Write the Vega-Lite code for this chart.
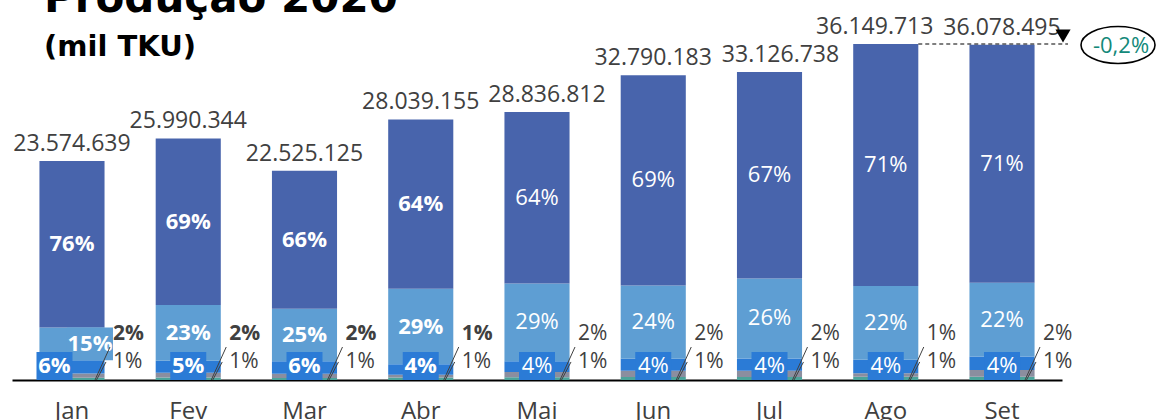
{
  "$schema": "https://vega.github.io/schema/vega-lite/v6.json",
  "width": 1050,
  "height": 336,
  "autosize": {"type": "none"},
  "padding": {"left": 12, "top": 44, "right": 96, "bottom": 40},
  "background": "white",
  "title": {
    "text": "Produção 2020",
    "subtitle": "(mil TKU)",
    "anchor": "start",
    "frame": "group",
    "font": "DejaVu Sans",
    "fontSize": 42,
    "fontWeight": "bold",
    "color": "black",
    "subtitleFont": "DejaVu Sans",
    "subtitleFontSize": 29,
    "subtitleFontWeight": "bold",
    "subtitleColor": "black",
    "subtitlePadding": 12,
    "offset": -44,
    "dx": 32,
    "dy": 3
  },
  "datasets": {
    "seg": [
      {"month": "Jan", "seg": "Grupo 1", "k": 1, "pct": 0.01, "value": 235746},
      {"month": "Jan", "seg": "Grupo 2", "k": 2, "pct": 0.02, "value": 471493},
      {"month": "Jan", "seg": "Grupo 3", "k": 3, "pct": 0.06, "value": 1414478},
      {"month": "Jan", "seg": "Grupo 4", "k": 4, "pct": 0.15, "value": 3536196},
      {"month": "Jan", "seg": "Grupo 5", "k": 5, "pct": 0.76, "value": 17916726},
      {"month": "Fev", "seg": "Grupo 1", "k": 1, "pct": 0.01, "value": 259903},
      {"month": "Fev", "seg": "Grupo 2", "k": 2, "pct": 0.02, "value": 519807},
      {"month": "Fev", "seg": "Grupo 3", "k": 3, "pct": 0.05, "value": 1299517},
      {"month": "Fev", "seg": "Grupo 4", "k": 4, "pct": 0.23, "value": 5977779},
      {"month": "Fev", "seg": "Grupo 5", "k": 5, "pct": 0.69, "value": 17933338},
      {"month": "Mar", "seg": "Grupo 1", "k": 1, "pct": 0.01, "value": 225251},
      {"month": "Mar", "seg": "Grupo 2", "k": 2, "pct": 0.02, "value": 450503},
      {"month": "Mar", "seg": "Grupo 3", "k": 3, "pct": 0.06, "value": 1351508},
      {"month": "Mar", "seg": "Grupo 4", "k": 4, "pct": 0.25, "value": 5631281},
      {"month": "Mar", "seg": "Grupo 5", "k": 5, "pct": 0.66, "value": 14866582},
      {"month": "Abr", "seg": "Grupo 1", "k": 1, "pct": 0.01, "value": 280392},
      {"month": "Abr", "seg": "Grupo 2", "k": 2, "pct": 0.01, "value": 280392},
      {"month": "Abr", "seg": "Grupo 3", "k": 3, "pct": 0.04, "value": 1121566},
      {"month": "Abr", "seg": "Grupo 4", "k": 4, "pct": 0.29, "value": 8131355},
      {"month": "Abr", "seg": "Grupo 5", "k": 5, "pct": 0.64, "value": 18225450},
      {"month": "Mai", "seg": "Grupo 1", "k": 1, "pct": 0.01, "value": 288368},
      {"month": "Mai", "seg": "Grupo 2", "k": 2, "pct": 0.02, "value": 576736},
      {"month": "Mai", "seg": "Grupo 3", "k": 3, "pct": 0.04, "value": 1153472},
      {"month": "Mai", "seg": "Grupo 4", "k": 4, "pct": 0.29, "value": 8362675},
      {"month": "Mai", "seg": "Grupo 5", "k": 5, "pct": 0.64, "value": 18455561},
      {"month": "Jun", "seg": "Grupo 1", "k": 1, "pct": 0.01, "value": 327902},
      {"month": "Jun", "seg": "Grupo 2", "k": 2, "pct": 0.02, "value": 655804},
      {"month": "Jun", "seg": "Grupo 3", "k": 3, "pct": 0.04, "value": 1311607},
      {"month": "Jun", "seg": "Grupo 4", "k": 4, "pct": 0.24, "value": 7869644},
      {"month": "Jun", "seg": "Grupo 5", "k": 5, "pct": 0.69, "value": 22625226},
      {"month": "Jul", "seg": "Grupo 1", "k": 1, "pct": 0.01, "value": 331267},
      {"month": "Jul", "seg": "Grupo 2", "k": 2, "pct": 0.02, "value": 662535},
      {"month": "Jul", "seg": "Grupo 3", "k": 3, "pct": 0.04, "value": 1325070},
      {"month": "Jul", "seg": "Grupo 4", "k": 4, "pct": 0.26, "value": 8612952},
      {"month": "Jul", "seg": "Grupo 5", "k": 5, "pct": 0.67, "value": 22194914},
      {"month": "Ago", "seg": "Grupo 1", "k": 1, "pct": 0.01, "value": 361497},
      {"month": "Ago", "seg": "Grupo 2", "k": 2, "pct": 0.01, "value": 361497},
      {"month": "Ago", "seg": "Grupo 3", "k": 3, "pct": 0.04, "value": 1445989},
      {"month": "Ago", "seg": "Grupo 4", "k": 4, "pct": 0.22, "value": 7952937},
      {"month": "Ago", "seg": "Grupo 5", "k": 5, "pct": 0.71, "value": 26027793},
      {"month": "Set", "seg": "Grupo 1", "k": 1, "pct": 0.01, "value": 360785},
      {"month": "Set", "seg": "Grupo 2", "k": 2, "pct": 0.02, "value": 721570},
      {"month": "Set", "seg": "Grupo 3", "k": 3, "pct": 0.04, "value": 1443140},
      {"month": "Set", "seg": "Grupo 4", "k": 4, "pct": 0.22, "value": 7937269},
      {"month": "Set", "seg": "Grupo 5", "k": 5, "pct": 0.71, "value": 25615731}
    ],
    "totals": [
      {"month": "Jan", "total": 23574639, "label": "23.574.639"},
      {"month": "Fev", "total": 25990344, "label": "25.990.344"},
      {"month": "Mar", "total": 22525125, "label": "22.525.125"},
      {"month": "Abr", "total": 28039155, "label": "28.039.155"},
      {"month": "Mai", "total": 28836812, "label": "28.836.812"},
      {"month": "Jun", "total": 32790183, "label": "32.790.183"},
      {"month": "Jul", "total": 33126738, "label": "33.126.738"},
      {"month": "Ago", "total": 36149713, "label": "36.149.713"},
      {"month": "Set", "total": 36078495, "label": "36.078.495"}
    ],
    "var": [
      {"from": "Ago", "to": "Set", "total": 36149713, "label": "-0,2%"}
    ]
  },
  "layer": [
    {
      "data": {"name": "seg"},
      "mark": {"type": "bar"},
      "encoding": {
        "x": {
          "field": "month", "type": "nominal", "title": null,
          "scale": {"domain": ["Jan", "Fev", "Mar", "Abr", "Mai", "Jun", "Jul", "Ago", "Set"], "paddingInner": 0.44, "paddingOuter": 0.236},
          "axis": {"title": null, "domainColor": "black", "domainWidth": 2, "ticks": false, "grid": false, "labelAngle": 0, "labelFont": "Open Sans", "labelFontSize": 24, "labelColor": "#404040", "labelPadding": 19}
        },
        "y": {"field": "value", "type": "quantitative", "stack": "zero", "scale": {"domain": [0, 36149713], "nice": false, "zero": true}, "axis": null},
        "color": {"field": "seg", "type": "nominal", "scale": {"domain": ["Grupo 1", "Grupo 2", "Grupo 3", "Grupo 4", "Grupo 5"], "range": ["#4BA39A", "#8B8E9F", "#2B7BD6", "#5E9ED3", "#4864AC"]}, "legend": null},
        "order": {"field": "k", "type": "quantitative", "sort": "ascending"}
      }
    },
    {
      "data": {"name": "seg"},
      "transform": [
        {"stack": "value", "groupby": ["month"], "sort": [{"field": "k", "order": "ascending"}], "as": ["v0", "v1"]},
        {"filter": "datum.k === 4 && datum.month === 'Jan'"}
      ],
      "mark": {"type": "bar", "width": 46, "xOffset": 18, "color": "#5E9ED3"},
      "encoding": {
        "x": {"field": "month", "type": "nominal", "title": null},
        "y": {"field": "v0", "type": "quantitative"},
        "y2": {"field": "v1"}
      }
    },
    {
      "data": {"name": "seg"},
      "transform": [
        {"stack": "value", "groupby": ["month"], "sort": [{"field": "k", "order": "ascending"}], "as": ["v0", "v1"]},
        {"calculate": "(datum.v0 + datum.v1) / 2", "as": "mid"},
        {"filter": "datum.k >= 4"}
      ],
      "mark": {"type": "text", "color": "white", "font": "Open Sans", "fontSize": 22, "baseline": "middle",
        "fontWeight": {"expr": "indexof(['Jan','Fev','Mar','Abr'], datum.month) >= 0 ? 'bold' : 'normal'"},
        "dx": {"expr": "datum.month === 'Jan' && datum.k === 4 ? 18 : 0"}},
      "encoding": {
        "x": {"field": "month", "type": "nominal", "title": null},
        "y": {"field": "mid", "type": "quantitative"},
        "text": {"field": "pct", "type": "quantitative", "format": ".0%"}
      }
    },
    {
      "data": {"name": "seg"},
      "transform": [{"filter": "datum.k === 3"}],
      "mark": {"type": "bar", "width": 36, "color": "#2B7BD6", "xOffset": {"expr": "datum.month === 'Jan' ? -17.5 : 0"}},
      "encoding": {
        "x": {"field": "month", "type": "nominal", "title": null},
        "y": {"datum": 0, "type": "quantitative"},
        "y2": {"datum": 3000000}
      }
    },
    {
      "data": {"name": "seg"},
      "transform": [{"filter": "datum.k === 3"}],
      "mark": {"type": "text", "color": "white", "font": "Open Sans", "fontSize": 22, "baseline": "middle", "dy": -14,
        "fontWeight": {"expr": "indexof(['Jan','Fev','Mar','Abr'], datum.month) >= 0 ? 'bold' : 'normal'"},
        "dx": {"expr": "datum.month === 'Jan' ? -17.5 : 0"}},
      "encoding": {
        "x": {"field": "month", "type": "nominal", "title": null},
        "y": {"datum": 0, "type": "quantitative"},
        "text": {"field": "pct", "type": "quantitative", "format": ".0%"}
      }
    },
    {
      "data": {"name": "seg"},
      "transform": [{"filter": "datum.k === 2"}],
      "mark": {"type": "rule", "color": "#404040", "strokeWidth": 1, "xOffset": 23, "x2Offset": 38},
      "encoding": {
        "x": {"field": "month", "type": "nominal", "title": null},
        "x2": {"field": "month"},
        "y": {"datum": 0, "type": "quantitative"},
        "y2": {"datum": 3550000}
      }
    },
    {
      "data": {"name": "seg"},
      "transform": [{"filter": "datum.k === 1"}],
      "mark": {"type": "rule", "color": "#404040", "strokeWidth": 1, "xOffset": 24.5, "x2Offset": 34},
      "encoding": {
        "x": {"field": "month", "type": "nominal", "title": null},
        "x2": {"field": "month"},
        "y": {"datum": 0, "type": "quantitative"},
        "y2": {"datum": 1940000}
      }
    },
    {
      "data": {"name": "seg"},
      "transform": [{"filter": "datum.k === 2"}],
      "mark": {"type": "text", "color": "#404040", "font": "Open Sans", "fontSize": 21, "baseline": "middle", "align": "left", "dx": 41, "dy": -46,
        "fontWeight": {"expr": "indexof(['Jan','Fev','Mar','Abr'], datum.month) >= 0 ? 'bold' : 'normal'"}},
      "encoding": {
        "x": {"field": "month", "type": "nominal", "title": null},
        "y": {"datum": 0, "type": "quantitative"},
        "text": {"field": "pct", "type": "quantitative", "format": ".0%"}
      }
    },
    {
      "data": {"name": "seg"},
      "transform": [{"filter": "datum.k === 1"}],
      "mark": {"type": "text", "color": "#404040", "font": "Open Sans", "fontSize": 21, "baseline": "middle", "align": "left", "dx": 41, "dy": -18},
      "encoding": {
        "x": {"field": "month", "type": "nominal", "title": null},
        "y": {"datum": 0, "type": "quantitative"},
        "text": {"field": "pct", "type": "quantitative", "format": ".0%"}
      }
    },
    {
      "data": {"name": "totals"},
      "mark": {"type": "text", "color": "#404040", "font": "Open Sans", "fontSize": 23, "baseline": "alphabetic", "dy": -10,
        "dx": {"expr": "datum.month === 'Mai' ? 10 : datum.month === 'Jul' ? 11 : datum.month === 'Ago' ? -11 : 0"}},
      "encoding": {
        "x": {"field": "month", "type": "nominal", "title": null},
        "y": {"field": "total", "type": "quantitative"},
        "text": {"field": "label", "type": "nominal"}
      }
    },
    {
      "data": {"name": "var"},
      "mark": {"type": "rule", "color": "black", "strokeWidth": 1.2, "strokeDash": [4, 3], "xOffset": 32.5, "x2Offset": 66},
      "encoding": {
        "x": {"field": "from", "type": "nominal", "title": null},
        "x2": {"field": "to"},
        "y": {"field": "total", "type": "quantitative"}
      }
    },
    {
      "data": {"name": "var"},
      "mark": {"type": "point", "shape": "triangle-down", "filled": true, "color": "black", "opacity": 1, "size": 230, "xOffset": 61, "yOffset": -8},
      "encoding": {
        "x": {"field": "to", "type": "nominal", "title": null},
        "y": {"field": "total", "type": "quantitative"}
      }
    },
    {
      "data": {"name": "var"},
      "mark": {"type": "point", "shape": "M-1,0A1,0.5,0,1,1,1,0A1,0.5,0,1,1,-1,0Z", "filled": false, "color": "black", "strokeWidth": 1.6, "opacity": 1, "size": 5476, "xOffset": 116, "yOffset": 1},
      "encoding": {
        "x": {"field": "to", "type": "nominal", "title": null},
        "y": {"field": "total", "type": "quantitative"}
      }
    },
    {
      "data": {"name": "var"},
      "mark": {"type": "text", "color": "#13897A", "font": "Open Sans", "fontSize": 22, "baseline": "middle", "dx": 119, "dy": 2},
      "encoding": {
        "x": {"field": "to", "type": "nominal", "title": null},
        "y": {"field": "total", "type": "quantitative"},
        "text": {"field": "label", "type": "nominal"}
      }
    }
  ],
  "config": {"view": {"stroke": null}, "font": "Open Sans"}
}
